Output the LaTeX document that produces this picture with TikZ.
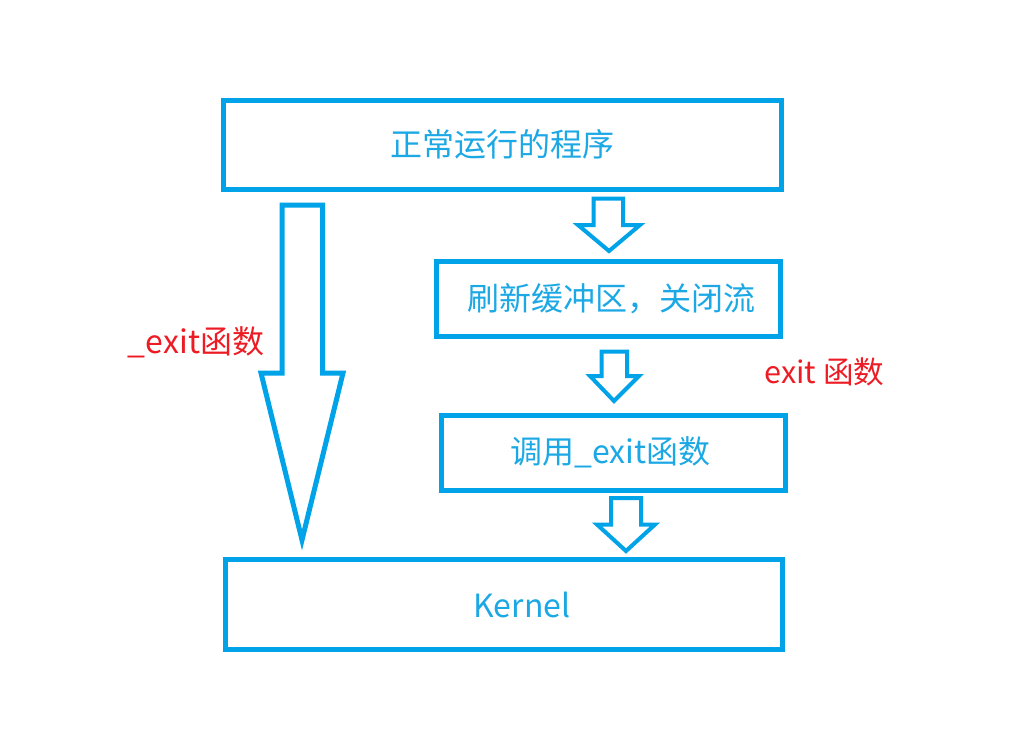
\documentclass[tikz,border=0pt]{standalone}
\usepackage{fontspec}
\setmainfont{Noto Sans CJK SC}
\definecolor{boxblue}{RGB}{0,162,232}
\definecolor{txtblue}{RGB}{28,168,228}
\definecolor{labred}{RGB}{237,28,36}
\begin{document}
\begin{tikzpicture}[x=0.5pt,y=-0.5pt,
  stepbox/.style={draw=boxblue,line width=2.5pt,inner sep=0pt,text=txtblue,font=\fontsize{16pt}{18pt}\selectfont},
  blockarrow/.style={draw=boxblue,line width=2pt,line join=miter},
  redlabel/.style={text=labred,font=\fontsize{16pt}{18pt}\selectfont,inner sep=0pt}]
\useasboundingbox (0,0) rectangle (1016,755);
% boxes
\node[stepbox,minimum width=279pt,minimum height=44.5pt] (run) at (502,144.5) {正常运行的程序};
\node[stepbox,minimum width=171.75pt,minimum height=37.5pt] (flush) at (608.25,298.5) {\hspace*{3pt}刷新缓冲区，关闭流};
\node[stepbox,minimum width=171.75pt,minimum height=37.25pt] (callexit) at (613.25,452.75) {调用\_exit函数\hspace*{3pt}};
\node[stepbox,minimum width=278.5pt,minimum height=45pt] (kernel) at (504,604.5) {\hspace*{18pt}Kernel};
% big left arrow
\draw[blockarrow,line width=2.5pt] (282,205) -- (322.5,205) -- (322.5,373) -- (343,373) -- (302,540) -- (261,373) -- (282,373) -- cycle;
% small arrows
\draw[blockarrow] (593.5,198.5) -- (623,198.5) -- (623,225) -- (640,225) -- (609,251) -- (578,225) -- (593.5,225) -- cycle;
\draw[blockarrow] (601.5,351.5) -- (627,351.5) -- (627,376) -- (639,376) -- (614,401) -- (590,376) -- (601.5,376) -- cycle;
\draw[blockarrow] (611,498) -- (641,498) -- (641,524.5) -- (655,524.5) -- (626,551) -- (597,524.5) -- (611,524.5) -- cycle;
% labels
\node[redlabel] (lab1) at (196,342) {\_exit函数};
\node[redlabel,font=\fontsize{15.3pt}{18pt}\selectfont] (lab2) at (824.5,372) {exit 函数};
\end{tikzpicture}
\end{document}
